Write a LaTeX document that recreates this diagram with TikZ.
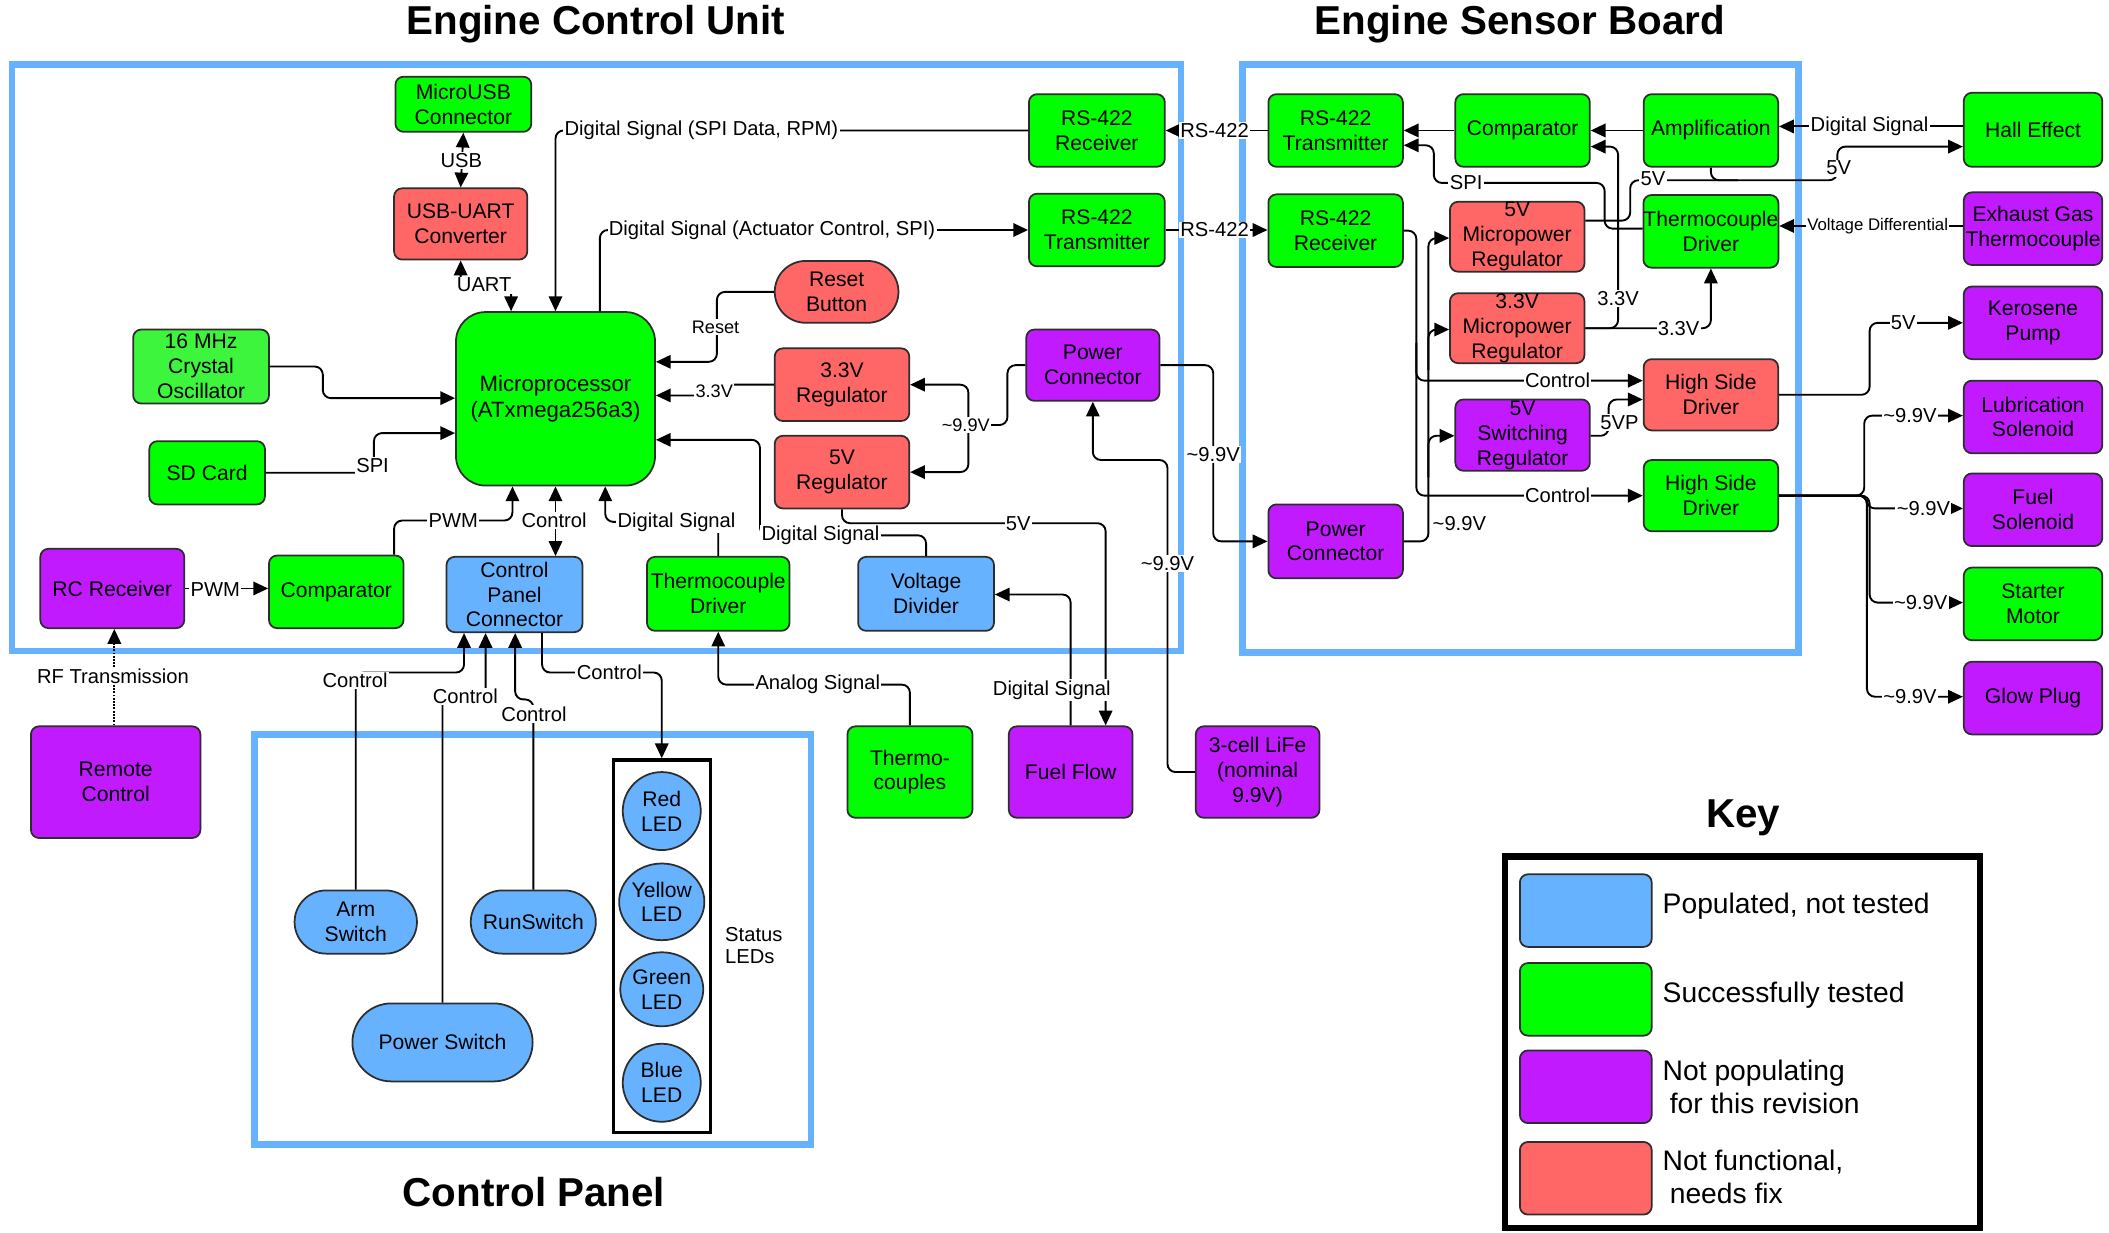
\documentclass[tikz,border=0pt]{standalone}
\usepackage{fontspec}
\setmainfont{Liberation Sans}
\usetikzlibrary{arrows.meta,shapes.misc,shapes.geometric}

\definecolor{cgreen}{RGB}{0,255,0}
\definecolor{cgreenlt}{RGB}{60,245,60}
\definecolor{cred}{RGB}{255,102,102}
\definecolor{cpurple}{RGB}{194,26,255}
\definecolor{cblue}{RGB}{102,178,255}
\definecolor{edgegray}{RGB}{45,45,45}

\newcommand\boxfont{\fontsize{15.7}{18.5}\selectfont}
\newcommand\lblfont{\fontsize{15}{17}\selectfont}
\newcommand\lblsmall{\fontsize{13.5}{16}\selectfont}
\newcommand\titlefont{\fontsize{30}{34}\selectfont\bfseries}
\newcommand\keyfont{\fontsize{21}{25}\selectfont}

\begin{document}
\begin{tikzpicture}[x=1pt,y=-1pt,
  box/.style={draw=edgegray, line width=1.3pt, rounded corners=6pt, align=center, inner sep=0pt, font=\boxfont},
  pill/.style={draw=edgegray, line width=1.3pt, rounded rectangle, align=center, inner sep=0pt, font=\boxfont},
  led/.style={draw=edgegray, line width=1.3pt, ellipse, fill=cblue, align=center, inner sep=0pt, font=\boxfont},
  sz/.style 2 args={minimum width=#1pt, minimum height=#2pt},
  frame/.style={draw=cblue, line width=5pt},
  wire/.style={line width=1.4pt, rounded corners=6pt},
  arr/.style={wire, -{Triangle[length=11pt,width=10pt]}},
  arrb/.style={wire, {Triangle[length=11pt,width=10pt]}-{Triangle[length=11pt,width=10pt]}},
  lbl/.style={fill=white, inner sep=1pt, font=\lblfont},
  lbls/.style={fill=white, inner sep=1pt, font=\lblsmall},
  title/.style={font=\titlefont, inner sep=0pt}
]
\useasboundingbox (0,0) rectangle (1568,916);

% ---------- titles ----------
\node[title] (tecu) at (443,18) {Engine Control Unit};
\node[title] (tesb) at (1130,18) {Engine Sensor Board};
\node[title] (tcp) at (397,886) {Control Panel};
\node[title] (tkey) at (1296,608) {Key};

% ---------- group frames ----------
\draw[frame] (9,48) rectangle (878,484);
\draw[frame] (924,48) rectangle (1337,485);
\draw[frame] (189,546) rectangle (603,851);

% ---------- engine control unit ----------
\node[box, fill=cgreen, sz={101}{41}] (usb) at (344.5,77.5) {MicroUSB\\Connector};
\node[box, fill=cred, sz={99}{53}] (uart) at (342.5,166.5) {USB-UART\\Converter};
\node[box, fill=cgreen, rounded corners=22pt, sz={148}{129}, font=\fontsize{16.5}{19}\selectfont] (mcu) at (413,296.5) {Microprocessor\\(ATxmega256a3)};
\node[box, fill=cgreenlt, sz={101}{55}] (xtal) at (149.5,272.5) {16 MHz\\Crystal\\Oscillator};
\node[box, fill=cgreen, sz={86}{47}] (sd) at (154,351.5) {SD Card};
\node[box, fill=cgreen, sz={101}{54}] (erx) at (815.5,97) {RS-422\\Receiver};
\node[box, fill=cgreen, sz={101}{54}] (etx) at (815.5,171) {RS-422\\Transmitter};
\node[pill, fill=cred, sz={92}{46}] (rst) at (622,217) {Reset\\Button};
\node[box, fill=cred, sz={100}{54}] (r33) at (626,286) {3.3V\\Regulator};
\node[box, fill=cred, sz={100}{54}] (r5) at (626,351) {5V\\Regulator};
\node[box, fill=cpurple, sz={99}{53}] (epc) at (812.5,271.5) {Power\\Connector};
\node[box, fill=cpurple, sz={107}{59}] (rcrx) at (83.5,437.5) {RC Receiver};
\node[box, fill=cgreen, sz={100}{54}] (ecmp) at (250,440) {Comparator};
\node[box, fill=cblue, sz={101}{56}] (cpc) at (382.5,442) {Control\\Panel\\Connector};
\node[box, fill=cgreen, sz={106}{55}] (etd) at (534,441.5) {Thermocouple\\Driver};
\node[box, fill=cblue, sz={101}{55}] (vdiv) at (688.5,441.5) {Voltage\\Divider};

% ---------- external parts below the ECU ----------
\node[box, fill=cpurple, sz={126}{83}] (remote) at (86,581.5) {Remote\\Control};
\node[box, fill=cgreen, sz={93}{68}] (tcs) at (676.5,574) {Thermo-\\couples};
\node[box, fill=cpurple, sz={92}{68}] (flow) at (796,574) {Fuel Flow};
\node[box, fill=cpurple, sz={92}{68}] (life) at (935,574) {3-cell LiFe\\(nominal\\9.9V)};

% ---------- control panel ----------
\node[pill, fill=cblue, sz={91}{47}] (arm) at (264.5,685.5) {Arm\\Switch};
\node[pill, fill=cblue, sz={93}{47}] (run) at (396.5,685.5) {RunSwitch};
\node[pill, fill=cblue, sz={134}{58}] (pwr) at (329,775) {Power Switch};
\node[draw, line width=2.5pt, inner sep=0pt, sz={72}{277}] (ledbox) at (492,703.5) {};
\node[led, sz={58}{58}] (ledr) at (492,603) {Red\\LED};
\node[led, sz={58}{57}] (ledy) at (492,670.5) {Yellow\\LED};
\node[led, sz={58}{55}] (ledg) at (492,735.5) {Green\\LED};
\node[led, sz={58}{58}] (ledb) at (492,805) {Blue\\LED};
\node[anchor=west, align=left, font=\lblfont, inner sep=0pt] (ledtxt) at (539,703) {Status\\LEDs};

% ---------- engine sensor board ----------
\node[box, fill=cgreen, sz={100}{54}] (stx) at (993,97) {RS-422\\Transmitter};
\node[box, fill=cgreen, sz={100}{54}] (scmp) at (1132,97) {Comparator};
\node[box, fill=cgreen, sz={100}{54}] (amp) at (1272,97) {Amplification};
\node[box, fill=cgreen, sz={100}{54}] (srx) at (993,171.5) {RS-422\\Receiver};
\node[box, fill=cred, sz={100}{52}] (m5) at (1128,176) {5V\\Micropower\\Regulator};
\node[box, fill=cgreen, sz={100}{54}] (std) at (1272,172) {Thermocouple\\Driver};
\node[box, fill=cred, sz={100}{52}] (m33) at (1128,244) {3.3V\\Micropower\\Regulator};
\node[box, fill=cred, sz={100}{53}] (hsd1) at (1272,293.5) {High Side\\Driver};
\node[box, fill=cpurple, sz={100}{53}] (sw5) at (1132,323.5) {5V\\Switching\\Regulator};
\node[box, fill=cgreen, sz={100}{53}] (hsd2) at (1272,368.5) {High Side\\Driver};
\node[box, fill=cpurple, sz={100}{55}] (spc) at (993,402.5) {Power\\Connector};

% ---------- sensors and actuators ----------
\node[box, fill=cgreen, sz={103}{55}] (hall) at (1511.5,96.5) {Hall Effect};
\node[box, fill=cpurple, sz={103}{54}] (egt) at (1511.5,170) {Exhaust Gas\\Thermocouple};
\node[box, fill=cpurple, sz={103}{54}] (kero) at (1511.5,240) {Kerosene\\Pump};
\node[box, fill=cpurple, sz={103}{54}] (lube) at (1511.5,310) {Lubrication\\Solenoid};
\node[box, fill=cpurple, sz={103}{54}] (fsol) at (1511.5,379) {Fuel\\Solenoid};
\node[box, fill=cgreen, sz={103}{54}] (start) at (1511.5,449) {Starter\\Motor};
\node[box, fill=cpurple, sz={103}{54}] (glow) at (1511.5,519) {Glow Plug};

% ---------- key ----------
\draw[line width=5pt] (1119,637) rectangle (1472,913);
\node[box, fill=cblue, sz={98}{54}] (kblue) at (1179,677) {};
\node[box, fill=cgreen, sz={98}{54}] (kgreen) at (1179,743) {};
\node[box, fill=cpurple, sz={98}{54}] (kpurple) at (1179,808) {};
\node[box, fill=cred, sz={98}{54}] (kred) at (1179,876) {};
\node[anchor=west, font=\keyfont, inner sep=0pt] (kt1) at (1236,674) {Populated, not tested};
\node[anchor=west, font=\keyfont, inner sep=0pt] (kt2) at (1236,740) {Successfully tested};
\node[anchor=west, align=left, font=\keyfont, inner sep=0pt] (kt3) at (1236,808) {Not populating\\\hspace{0.25em}for this revision};
\node[anchor=west, align=left, font=\keyfont, inner sep=0pt] (kt4) at (1236,875) {Not functional,\\\hspace{0.25em}needs fix};

% ---------- ECU wiring ----------
\draw[arrb] (usb.south) -- (uart.north);
\draw[arrb] (uart.south) -- (342.5,212) -- (380,212) -- (mcu.north -| 380,0);
\draw[arr] (erx.west) -- (413,97) -- (mcu.north -| 413,0);
\draw[arr] (mcu.north -| 446,0) -- (446,171) -- (etx.west);
\draw[arr] (rst.west) -- (533,217) -- (533,269) -- (mcu.east |- 0,269);
\draw[arr] (r33.west) -- (540,286) -- (540,294) -- (mcu.east |- 0,294);
\draw[arr] (vdiv.north) -- (688.5,398) -- (565,398) -- (565,327) -- (mcu.east |- 0,327);
\draw[arr] (etd.north) -- (534,388) -- (450,388) -- (mcu.south -| 450,0);
\draw[arrb] (mcu.south) -- (cpc.north -| mcu.south);
\draw[arr] (ecmp.north -| 293,0) -- (293,387) -- (381,387) -- (mcu.south -| 381,0);
\draw[arr] (rcrx.east) -- (ecmp.west |- rcrx.east);
\draw[arr] (xtal.east) -- (240,272.5) -- (240,296) -- (mcu.west |- 0,296);
\draw[arr] (sd.east) -- (278,351.5) -- (278,322) -- (mcu.west |- 0,322);
\draw[wire] (epc.west) -- (749,271.5) -- (749,316) -- (720,316);
\draw[arr] (720,316) -- (720,286) -- (r33.east);
\draw[arr] (720,316) -- (720,351) -- (r5.east);
\draw[arr] (epc.east) -- (902,271.5) -- (902,402.5) -- (spc.west);
\draw[arr] (life.west) -- (868,574) -- (868,342) -- (812.5,342) -- (epc.south);
\draw[arr] (r5.south) -- (626,389) -- (822,389) -- (flow.north -| 822,0);
\draw[arr] (flow.north) -- (796,442) -- (vdiv.east |- 0,442);
\draw[arr] (tcs.north) -- (676.5,509) -- (534,509) -- (etd.south);
\draw[arr, densely dotted] (remote.north -| 85,0) -- (rcrx.south -| 85,0);

% ---------- control panel wiring ----------
\draw[arr] (arm.north) -- (264.5,500) -- (345,500) -- (cpc.south -| 345,0);
\draw[arr] (pwr.north) -- (329,518) -- (361,518) -- (cpc.south -| 361,0);
\draw[arr] (run.north) -- (396.5,520) -- (383,520) -- (cpc.south -| 383,0);
\draw[arr] (cpc.south -| 403,0) -- (403,500) -- (492,500) -- (ledbox.north);

% ---------- ESB wiring ----------
\draw[arr] (stx.west) -- (erx.east);
\draw[arr] (etx.east) -- (srx.west |- etx.east);
\draw[arr] (scmp.west) -- (stx.east);
\draw[arr] (amp.west) -- (scmp.east);
\draw[arr] (hall.west |- 0,94) -- (amp.east |- 0,94);
\draw[arr] (m5.east |- 0,164) -- (1212,164) -- (1212,134) -- (1366,134) -- (1366,109) -- (hall.west |- 0,109);
\draw[wire] (amp.south) -- (1272,134) -- (1292,134);
\draw[arr] (std.west |- 0,170) -- (1193,170) -- (1193,136) -- (1066,136) -- (1066,108) -- (stx.east |- 0,108);
\draw[arr] (m33.east) -- (1203,244) -- (1203,109) -- (scmp.east |- 0,109);
\draw[arr] (m33.east) -- (1272,244) -- (std.south);
\draw[arr] (egt.west |- 0,168) -- (std.east |- 0,168);
\draw[arr] (srx.east) -- (1053,171.5) -- (1053,368.5) -- (hsd2.west);
\draw[arr] (1053,255) -- (1053,283) -- (hsd1.west |- 0,283);
\draw[arr] (spc.east) -- (1062,402.5) -- (1062,177) -- (m5.west |- 0,177);
\draw[arr] (1062,275) -- (1062,245) -- (m33.west |- 0,245);
\draw[arr] (1062,355) -- (1062,324) -- (sw5.west |- 0,324);
\draw[arr] (sw5.east |- 0,324) -- (1196,324) -- (1196,297) -- (hsd1.west |- 0,297);
\draw[arr] (hsd1.east) -- (1390,293.5) -- (1390,240) -- (kero.west);
\draw[arr] (hsd2.east) -- (1386,368.5) -- (1386,309) -- (lube.west |- 0,309);
\draw[arr] (hsd2.east) -- (1388,368.5) -- (1388,378) -- (fsol.west |- 0,378);
\draw[arr] (hsd2.east) -- (1390,368.5) -- (1390,448) -- (start.west |- 0,448);
\draw[arr] (hsd2.east) -- (1388,368.5) -- (1388,518) -- (glow.west |- 0,518);

% ---------- wire labels ----------
\node[lbl] (lusb) at (343,119) {USB};
\node[lbl] (luart) at (360,212) {UART};
\node[lbl] (lspirpm) at (521.5,97) {Digital Signal (SPI Data, RPM)};
\node[lbl] (lact) at (574,171) {Digital Signal (Actuator Control, SPI)};
\node[lbls] (lrst) at (532,243) {Reset};
\node[lbls] (l33a) at (531,291) {3.3V};
\node[lbls] (l99a) at (718,316) {\textasciitilde 9.9V};
\node[lbl] (l99b) at (902,338) {\textasciitilde 9.9V};
\node[lbl] (l99c) at (868,419) {\textasciitilde 9.9V};
\node[lbl] (l5va) at (757,389) {5V};
\node[lbl] (ldsvd) at (610,398) {Digital Signal};
\node[lbl] (ldstd) at (503,388) {Digital Signal};
\node[lbl] (lctl) at (412,387) {Control};
\node[lbl] (lpwma) at (337,387) {PWM};
\node[lbl] (lpwmb) at (160,438) {PWM};
\node[lbl] (lspia) at (277,346) {SPI};
\node[lbl] (lanalog) at (608,509) {Analog Signal};
\node[lbl] (ldsff) at (782,513) {Digital Signal};
\node[lbl] (lrf) at (84,503) {RF Transmission};
\node[lbl] (lc1) at (264,506) {Control};
\node[lbl] (lc2) at (346,518) {Control};
\node[lbl] (lc3) at (397,531) {Control};
\node[lbl] (lc4) at (453,500) {Control};
\node[lbl] (lrs1) at (903,97) {RS-422};
\node[lbl] (lrs2) at (903,171) {RS-422};
\node[lbl] (lspib) at (1090,136) {SPI};
\node[lbl] (l5vb) at (1229,133) {5V};
\node[lbl] (l5vc) at (1367,125) {5V};
\node[lbl] (ldshall) at (1390,94) {Digital Signal};
\node[fill=white, inner sep=1pt, font=\fontsize{12.5}{14}\selectfont] (lvd) at (1396,168) {Voltage Differential};
\node[lbl] (l33b) at (1203,222) {3.3V};
\node[lbl] (l33c) at (1248,244) {3.3V};
\node[lbl] (lc5) at (1158,283) {Control};
\node[lbl] (lc6) at (1158,368.5) {Control};
\node[lbl] (l5vp) at (1204,314) {5VP};
\node[lbl, anchor=west] (l99d) at (1064,389) {\textasciitilde 9.9V};
\node[lbl] (l5vd) at (1415,240) {5V};
\node[lbl] (l99e) at (1420,309) {\textasciitilde 9.9V};
\node[lbl] (l99f) at (1430,378) {\textasciitilde 9.9V};
\node[lbl] (l99g) at (1428,448) {\textasciitilde 9.9V};
\node[lbl] (l99h) at (1420,518) {\textasciitilde 9.9V};
\end{tikzpicture}
\end{document}
